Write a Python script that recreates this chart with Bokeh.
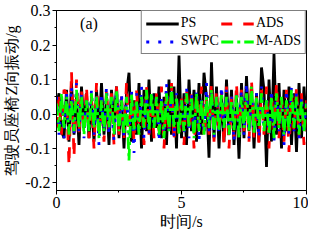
from bokeh.plotting import figure
from bokeh.models import SingleIntervalTicker, NumeralTickFormatter, Legend, LegendItem, Range1d
from bokeh.core.properties import value
from bokeh.embed import file_html
from bokeh.resources import INLINE

# sample times (s), 0.1 s step
time_s = [round(i * 0.1, 1) for i in range(101)]

ps = [0.02, 0.06, -0.05, -0.07, 0.07, -0.08, 0.09, -0.06, 0.05, -0.09,
      0.08, -0.04, 0.06, -0.07, 0.04, -0.08, 0.07, -0.05, 0.09, -0.06,
      0.05, -0.09, 0.07, -0.03, 0.08, -0.07, 0.05, -0.10, 0.06, 0.12,
      -0.08, 0.04, -0.06, 0.09, -0.10, 0.07, -0.05, 0.10, -0.08, 0.06,
      -0.04, 0.08, -0.07, 0.05, -0.09, 0.10, -0.06, 0.08, -0.10, 0.17,
      -0.07, 0.06, -0.09, 0.10, -0.05, 0.07, -0.08, 0.09, -0.06, 0.12,
      0.05, -0.127, 0.15, -0.07, 0.08, -0.10, 0.06, -0.08, 0.10, -0.06,
      0.07, -0.09, 0.05, -0.13, 0.09, -0.07, 0.11, -0.05, 0.08, -0.10,
      0.06, -0.08, 0.135, 0.07, -0.154, 0.10, -0.08, 0.175, -0.06, 0.09,
      -0.10, 0.07, -0.05, 0.08, -0.09, 0.06, -0.11, 0.09, -0.07, 0.08,
      -0.05]

ads = [-0.04, 0.05, -0.06, 0.07, 0.06, -0.15, 0.124, -0.125, 0.10, -0.06,
       0.07, -0.05, 0.08, -0.07, 0.05, -0.10, 0.09, -0.06, 0.04, -0.08,
       0.07, -0.05, 0.06, -0.09, 0.08, -0.06, 0.05, -0.07, 0.09, -0.05,
       0.06, -0.08, 0.07, -0.04, 0.05, -0.09, 0.08, -0.06, 0.04, -0.07,
       0.06, -0.05, 0.08, -0.10, 0.07, -0.06, 0.09, -0.08, 0.05, -0.07,
       0.06, -0.09, 0.08, -0.05, 0.07, -0.10, 0.06, -0.04, 0.08, -0.07,
       0.05, -0.06, 0.09, -0.08, 0.07, -0.05, 0.06, -0.09, 0.08, -0.10,
       0.05, -0.07, 0.09, -0.06, 0.07, -0.05, 0.06, -0.08, 0.10, -0.07,
       0.05, -0.09, 0.07, -0.06, 0.08, -0.10, 0.06, -0.05, 0.09, -0.07,
       0.05, -0.08, 0.07, -0.11, 0.06, -0.05, 0.08, -0.07, 0.06, -0.09,
       0.04]

swpc = [0.05, -0.06, 0.04, -0.07, 0.06, -0.05, 0.08, -0.06, 0.09, -0.05,
        0.06, -0.07, 0.05, -0.04, 0.07, -0.06, 0.05, -0.09, 0.06, -0.05,
        0.08, -0.06, 0.05, -0.08, 0.07, -0.04, 0.06, -0.07, 0.05, -0.06,
        0.07, -0.113, 0.06, -0.05, 0.08, -0.07, 0.05, -0.06, 0.07, -0.04,
        0.06, -0.08, 0.05, -0.06, 0.09, -0.05, 0.07, -0.07, 0.06, -0.04,
        0.05, -0.06, 0.08, -0.07, 0.06, -0.05, 0.07, -0.08, 0.05, -0.06,
        0.09, -0.05, 0.06, -0.07, 0.05, -0.06, 0.08, -0.04, 0.07, -0.06,
        0.05, -0.08, 0.06, -0.05, 0.07, -0.06, 0.09, -0.07, 0.05, -0.04,
        0.06, -0.07, 0.08, -0.05, 0.05, -0.06, 0.07, -0.08, 0.06, -0.05,
        0.05, -0.09, 0.07, -0.06, 0.08, -0.05, 0.06, -0.07, 0.05, -0.06,
        0.04]

mads = [0.03, -0.05, 0.06, -0.04, 0.05, -0.06, 0.04, -0.05, 0.07, -0.04,
        0.05, -0.06, 0.04, -0.05, 0.06, -0.04, 0.05, -0.07, 0.04, -0.05,
        0.06, -0.04, 0.05, -0.06, 0.07, -0.05, 0.04, -0.06, 0.05, -0.135,
        0.06, -0.05, 0.04, -0.06, 0.05, -0.04, 0.07, -0.05, 0.06, -0.04,
        0.05, -0.06, 0.04, -0.07, 0.06, -0.05, 0.08, -0.04, 0.05, -0.06,
        0.04, -0.05, 0.06, -0.04, 0.05, -0.07, 0.06, -0.05, 0.04, -0.06,
        0.05, -0.04, 0.07, -0.06, 0.05, -0.05, 0.06, -0.04, 0.05, -0.06,
        0.04, -0.05, 0.06, -0.07, 0.05, -0.04, 0.06, -0.05, 0.08, -0.06,
        0.05, -0.04, 0.06, -0.05, 0.04, -0.06, 0.05, -0.07, 0.06, -0.04,
        0.05, -0.06, 0.04, -0.05, 0.07, -0.04, 0.05, -0.06, 0.04, -0.05,
        0.03]

series_names = ["PS", "ADS", "SWPC", "M-ADS"]
series_colors = ["#000000", "#ff0000", "#0000ff", "#00ff00"]
series_dash = ["solid", "11 11", "3 9", "12 4 3 4"]

FONT = "Liberation Serif"

p = figure(width=308, height=232, output_backend="svg", toolbar_location=None,
           x_range=Range1d(0, 10.0001), y_range=Range1d(-0.222, 0.3005),
           min_border_top=10, min_border_right=2, min_border_bottom=4, min_border_left=10)
p.xgrid.visible = False
p.ygrid.visible = False
p.outline_line_color = "black"
p.outline_line_width = 1
p.background_fill_color = "white"
p.border_fill_color = "white"

renderers = {}
for vals, name, col, dash in zip([ps, ads, swpc, mads], series_names, series_colors, series_dash):
    renderers[name] = p.line(time_s, vals, line_color=col, line_width=2.8, line_dash=dash)

p.xaxis.ticker = SingleIntervalTicker(interval=5, num_minor_ticks=2)
p.yaxis.ticker = SingleIntervalTicker(interval=0.1, num_minor_ticks=2)
p.yaxis.formatter = NumeralTickFormatter(format="0.0")

for ax in (p.xaxis, p.yaxis):
    ax.major_tick_in = 0
    ax.major_tick_out = 4
    ax.minor_tick_in = 0
    ax.minor_tick_out = 2
    ax.axis_line_color = "black"
    ax.major_tick_line_color = "black"
    ax.minor_tick_line_color = "black"
    ax.major_label_text_font = FONT
    ax.major_label_text_font_size = "16px"
    ax.major_label_text_color = "black"
    ax.axis_label_text_font = FONT
    ax.axis_label_text_font_style = "normal"
    ax.axis_label_text_font_size = "16px"
    ax.axis_label_text_color = "black"
    ax.axis_label_standoff = 2
    ax.major_label_standoff = 2

p.xaxis.axis_label = "时间/s"
p.yaxis.axis_label = "驾驶员座椅Z向振动/g"

p.text(x=[1.3], y=[0.262], text=["(a)"], text_font=value(FONT), text_font_size="16px",
       text_align="center", text_baseline="middle", text_color="black")

# column-first fill: first column PS/SWPC, second column ADS/M-ADS
legend_order = ["PS", "SWPC", "ADS", "M-ADS"]
legend = Legend(items=[LegendItem(label=n, renderers=[renderers[n]]) for n in legend_order],
                location="top_right", ncols=2)
legend.label_text_font = FONT
legend.label_text_font_size = "14px"
legend.label_text_color = "black"
legend.glyph_width = 33
legend.glyph_height = 13
legend.label_height = 13
legend.label_standoff = 2
legend.spacing = 2
legend.padding = 4
legend.margin = 0
legend.border_line_color = "black"
legend.border_line_width = 1
legend.background_fill_alpha = 1
p.add_layout(legend)

open("out.html", "w").write(file_html(p, INLINE))
